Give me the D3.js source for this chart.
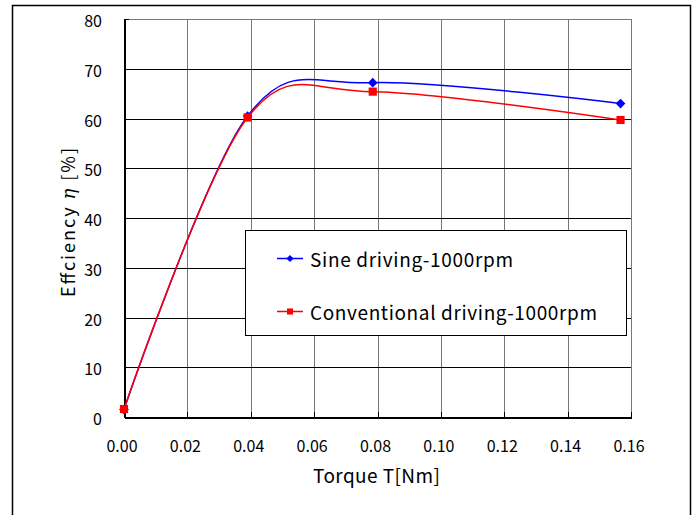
<!DOCTYPE html>
<html lang="en">
<head>
<meta charset="utf-8">
<title>Efficiency vs torque</title>
<style>
  body { margin: 0; background: #fff; }
  svg text { font-family: "Noto Sans CJK JP", "DejaVu Sans", sans-serif; fill: #000; }
  .grid-y line { stroke: #000; stroke-width: 1; shape-rendering: crispEdges; }
  .grid-x line { stroke: #777; stroke-width: 1; shape-rendering: crispEdges; }
  .axis path, .axis line { stroke: #000; shape-rendering: crispEdges; }
</style>
</head>
<body>
<svg id="chart" width="695" height="515"></svg>
<script src="https://cdn.jsdelivr.net/npm/d3@7"></script>
<script>

// values
var torque = [0.0, 0.039, 0.0785, 0.1567];
var sineEff = [1.5, 60.5, 67.2, 63.0];
var convEff = [1.6, 60.2, 65.4, 59.7];
var xTicks = [0, 0.02, 0.04, 0.06, 0.08, 0.10, 0.12, 0.14, 0.16];
var yTicks = [0, 10, 20, 30, 40, 50, 60, 70, 80];
var seriesNames = ["Sine driving-1000rpm", "Conventional driving-1000rpm"];

var svg = d3.select("#chart"),
    margin = {top: 19, left: 124},
    width = 507,
    height = 398,
    g = svg.append("g").attr("transform", "translate(" + margin.left + "," + margin.top + ")");

// outer frame
svg.append("rect")
    .attr("x", 12.5).attr("y", 5.5)
    .attr("width", 678).attr("height", 520)
    .attr("fill", "none").attr("stroke", "#000").attr("stroke-width", 1.5);

var x = d3.scaleLinear().domain([0, 0.16]).range([0, width]);
var y = d3.scaleLinear().domain([0, 80]).range([height, 0]);

// gridlines
g.append("g").attr("class", "grid-x")
  .selectAll("line").data(xTicks.slice(1)).enter().append("line")
    .attr("x1", function(d) { return Math.round(x(d)) + 0.5; })
    .attr("x2", function(d) { return Math.round(x(d)) + 0.5; })
    .attr("y1", 0).attr("y2", height);

g.append("g").attr("class", "grid-y")
  .selectAll("line").data(yTicks.slice(1)).enter().append("line")
    .attr("x1", 0).attr("x2", width)
    .attr("y1", function(d) { return Math.round(y(d)) + 0.5; })
    .attr("y2", function(d) { return Math.round(y(d)) + 0.5; })
    .style("stroke", function(d) { return d === 80 ? "#777" : "#000"; });

// axes, ticks pointing inward
var xAxis = g.append("g").attr("class", "axis axis--x")
    .attr("transform", "translate(0," + height + ")")
    .call(d3.axisBottom(x).tickValues(xTicks).tickSizeInner(-5).tickSizeOuter(0).tickFormat(d3.format(".2f")));
xAxis.select(".domain").attr("stroke-width", 2);
xAxis.selectAll("text")
    .attr("y", 0).attr("dy", 0)
    .attr("transform", "translate(-2.5,35)")
    .style("font-size", "16px");

var yAxis = g.append("g").attr("class", "axis axis--y")
    .call(d3.axisLeft(y).tickValues(yTicks).tickSizeInner(-5).tickSizeOuter(0));
yAxis.select(".domain").attr("stroke-width", 2);
yAxis.selectAll("text")
    .attr("x", -22).attr("dy", 0)
    .attr("transform", "translate(0,7.5)")
    .style("font-size", "16px");

// axis titles, stretched to the widths of the original font
svg.append("text")
    .attr("x", 313).attr("y", 483)
    .attr("textLength", 127).attr("lengthAdjust", "spacing")
    .style("font-size", "19px")
    .text("Torque T[Nm]");

var yTitle = svg.append("text")
    .attr("transform", "translate(75,297) rotate(-90)")
    .attr("textLength", 149).attr("lengthAdjust", "spacing")
    .style("font-size", "18px");
yTitle.append("tspan").text("Effciency ");
yTitle.append("tspan").style("font-style", "italic").style("font-family", "'DejaVu Serif', serif").text("η");
yTitle.append("tspan").text(" [%]");

// series
var line = d3.line()
    .curve(d3.curveCardinal)
    .x(function(d) { return x(d[0]); })
    .y(function(d) { return y(d[1]); });

var series = [
  {name: seriesNames[0], values: d3.zip(torque, sineEff), color: "#0000ff", symbol: d3.symbolDiamond2, size: 60, textWidth: 203},
  {name: seriesNames[1], values: d3.zip(torque, convEff), color: "#ff0000", symbol: d3.symbolSquare2, size: 85, textWidth: 287}
];

series.forEach(function(s) {
  g.append("path")
      .attr("d", line(s.values))
      .attr("fill", "none")
      .attr("stroke", s.color)
      .attr("stroke-width", 1.5);

  g.selectAll(null).data(s.values).enter().append("path")
      .attr("d", d3.symbol().type(s.symbol).size(s.size))
      .attr("transform", function(d) { return "translate(" + x(d[0]) + "," + y(d[1]) + ")"; })
      .attr("fill", s.color);
});

// legend
var legend = svg.append("g");
legend.append("rect")
    .attr("x", 245.5).attr("y", 230.5)
    .attr("width", 381).attr("height", 105)
    .attr("fill", "#fff").attr("stroke", "#000").attr("stroke-width", 1);

var item = legend.selectAll(".item").data(series).enter().append("g")
    .attr("class", "item")
    .attr("transform", function(d, i) { return "translate(0," + (258.5 + i * 53) + ")"; });

item.append("line")
    .attr("x1", 277).attr("x2", 303)
    .attr("stroke", function(d) { return d.color; })
    .attr("stroke-width", 1.5);

item.append("path")
    .attr("d", function(d) { return d3.symbol().type(d.symbol).size(d.size * 0.55)(); })
    .attr("transform", "translate(290,0)")
    .attr("fill", function(d) { return d.color; });

item.append("text")
    .attr("x", 310).attr("y", 8)
    .attr("textLength", function(d) { return d.textWidth; })
    .attr("lengthAdjust", "spacing")
    .style("font-size", "19px")
    .text(function(d) { return d.name; });

</script>
</body>
</html>
